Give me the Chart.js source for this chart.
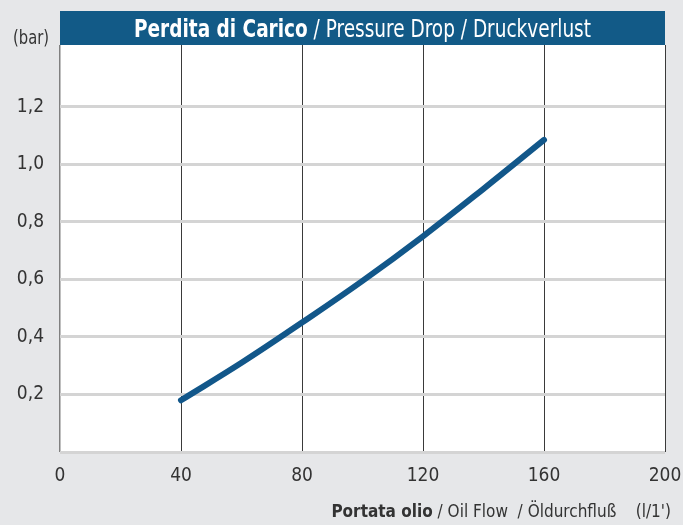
<!DOCTYPE html>
<html>
<head>
<meta charset="utf-8">
<script src="https://cdn.jsdelivr.net/npm/chart.js@4/dist/chart.umd.min.js"></script>
<style>
  html, body { margin: 0; padding: 0; background: #fff; }
  #wrap { width: 692px; height: 525px; }
</style>
</head>
<body>
<div id="wrap"><canvas id="drop" width="692" height="525"></canvas></div>
<script>
// data
const flow = [40, 60, 80, 100, 120, 140, 160];          // l/1'
const drop = [0.18, 0.31, 0.45, 0.595, 0.75, 0.915, 1.085]; // bar
const xTicks = [0, 40, 80, 120, 160, 200];
const yTicks = [0, 0.2, 0.4, 0.6, 0.8, 1.0, 1.2];

const FONT = "'Liberation Sans Narrow', 'DejaVu Sans Condensed', 'Roboto', sans-serif";
const BLUE = "#12578a";

const decor = {
  id: "decor",
  beforeDraw(chart) {
    const ctx = chart.ctx, a = chart.chartArea;
    ctx.save();
    ctx.fillStyle = "#e6e7e9";
    ctx.fillRect(0, 0, 683, 525);
    ctx.fillStyle = "#fff";
    ctx.fillRect(a.left, a.top, a.right - a.left, a.bottom - a.top);
    ctx.restore();
  },
  afterDraw(chart) {
    const ctx = chart.ctx, a = chart.chartArea;
    ctx.save();
    // title bar
    ctx.fillStyle = "#125a87";
    ctx.fillRect(a.left, 11, a.right - a.left, 34);
    const bold = "Perdita di Carico";
    const rest = " / Pressure Drop / Druckverlust";
    ctx.textBaseline = "alphabetic";
    ctx.font = "bold 25px " + FONT;
    const w1 = ctx.measureText(bold).width;
    ctx.font = "25px " + FONT;
    const w2 = ctx.measureText(rest).width;
    const k = 457 / (w1 + w2);
    ctx.save();
    ctx.translate((a.left + a.right) / 2 - 457 / 2, 37);
    ctx.scale(k, 1);
    ctx.fillStyle = "#fff";
    ctx.font = "bold 25px " + FONT;
    ctx.fillText(bold, 0, 0);
    ctx.font = "25px " + FONT;
    ctx.fillText(rest, w1, 0);
    ctx.restore();

    // unit label
    ctx.fillStyle = "#333";
    ctx.font = "19px " + FONT;
    ctx.textAlign = "left";
    const uw = ctx.measureText("(bar)").width;
    ctx.save();
    ctx.translate(13, 44);
    ctx.scale(36 / uw, 1);
    ctx.fillText("(bar)", 0, 0);
    ctx.restore();

    // x axis title
    const b = "Portata olio";
    const r = " / Oil Flow  / Öldurchfluß    (l/1')";
    ctx.font = "bold 17px " + FONT;
    const bw = ctx.measureText(b).width;
    ctx.font = "17px " + FONT;
    const rw = ctx.measureText(r).width;
    const sx = 671 - bw - rw;
    ctx.font = "bold 17px " + FONT;
    ctx.fillText(b, sx, 517);
    ctx.font = "17px " + FONT;
    ctx.fillText(r, sx + bw, 517);
    ctx.restore();
  }
};

new Chart(document.getElementById("drop"), {
  type: "line",
  data: {
    labels: flow,
    datasets: [{
      data: flow.map((f, i) => ({ x: f, y: drop[i] })),
      borderColor: BLUE,
      borderWidth: 6,
      borderCapStyle: "round",
      pointRadius: 0,
      tension: 0.4,
      fill: false
    }]
  },
  options: {
    responsive: false,
    animation: false,
    layout: { padding: { top: 45, right: 27, left: 0, bottom: 0 } },
    plugins: { legend: { display: false }, tooltip: { enabled: false } },
    scales: {
      x: {
        type: "linear",
        min: 0, max: 200,
        afterFit(s) { s.height = 73; s.paddingLeft = 0; s.paddingRight = 0; },
        afterBuildTicks(s) { s.ticks = xTicks.map(v => ({ value: v })); },
        grid: {
          drawTicks: false,
          color: c => c.tick.value === 0 ? "#808080" : "#3a3a3a",
          lineWidth: c => c.tick.value === 0 ? 1.5 : 1
        },
        border: { display: false },
        ticks: { padding: 13, color: "#333", font: { family: FONT, size: 19 } }
      },
      y: {
        type: "linear",
        min: 0, max: 1.415,
        afterFit(s) { s.width = 60; s.paddingTop = 0; s.paddingBottom = 0; },
        afterBuildTicks(s) { s.ticks = yTicks.map(v => ({ value: v })); },
        grid: { drawTicks: false, color: "#d4d4d4", lineWidth: 3 },
        border: { display: false },
        ticks: {
          padding: 16, color: "#333", font: { family: FONT, size: 19 },
          callback: v => v === 0 ? "" : v.toFixed(1).replace(".", ",")
        }
      }
    }
  },
  plugins: [decor]
});
</script>
</body>
</html>
